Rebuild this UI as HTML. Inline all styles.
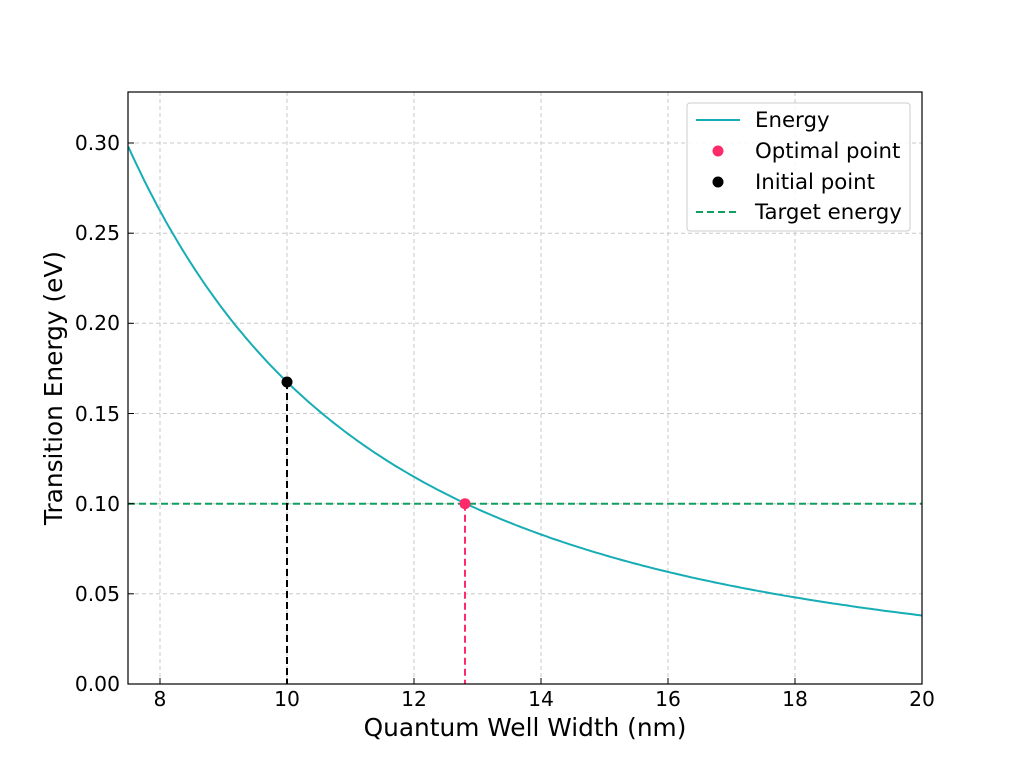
<!DOCTYPE html>
<html><head><meta charset="utf-8"><style>body{margin:0;background:#fff}svg{display:block;font-family:"DejaVu Sans","Liberation Sans",sans-serif}</style></head>
<body>
<svg id="s" width="1024" height="768" viewBox="0 0 1024 768">
<rect width="1024" height="768" fill="#fff"/>
<g stroke="#c8c8c8" stroke-width="1" stroke-dasharray="4,3">
<line x1="160" y1="92" x2="160" y2="684"/><line x1="287" y1="92" x2="287" y2="684"/><line x1="414" y1="92" x2="414" y2="684"/><line x1="541" y1="92" x2="541" y2="684"/><line x1="668" y1="92" x2="668" y2="684"/><line x1="795" y1="92" x2="795" y2="684"/>
<line x1="128" y1="593.8" x2="922" y2="593.8"/><line x1="128" y1="503.7" x2="922" y2="503.7"/><line x1="128" y1="413.5" x2="922" y2="413.5"/><line x1="128" y1="323.3" x2="922" y2="323.3"/><line x1="128" y1="233.2" x2="922" y2="233.2"/><line x1="128" y1="143" x2="922" y2="143"/>
</g>
<line x1="128" y1="503.7" x2="922" y2="503.7" stroke="#109e5e" stroke-width="2" stroke-dasharray="7,4"/>
<line x1="287" y1="382" x2="287" y2="684" stroke="#000" stroke-width="2" stroke-dasharray="7,4"/>
<line x1="465" y1="503.7" x2="465" y2="684" stroke="#ff2a6a" stroke-width="2" stroke-dasharray="7,4"/>
<path id="c" fill="none" stroke="#17adb5" stroke-width="2"/>
<circle cx="287" cy="382" r="5.5" fill="#000"/>
<circle cx="465" cy="503.7" r="5.5" fill="#ff2a6a"/>
<rect x="128" y="92" width="794" height="592" fill="none" stroke="#000" stroke-width="1.2"/>
<g stroke="#000" stroke-width="1">
<line x1="160" y1="684" x2="160" y2="678"/><line x1="287" y1="684" x2="287" y2="678"/><line x1="414" y1="684" x2="414" y2="678"/><line x1="541" y1="684" x2="541" y2="678"/><line x1="668" y1="684" x2="668" y2="678"/><line x1="795" y1="684" x2="795" y2="678"/><line x1="922" y1="684" x2="922" y2="678"/>
<line x1="128" y1="684" x2="134" y2="684"/><line x1="128" y1="593.8" x2="134" y2="593.8"/><line x1="128" y1="503.7" x2="134" y2="503.7"/><line x1="128" y1="413.5" x2="134" y2="413.5"/><line x1="128" y1="323.3" x2="134" y2="323.3"/><line x1="128" y1="233.2" x2="134" y2="233.2"/><line x1="128" y1="143" x2="134" y2="143"/>
</g>
<g font-size="20.3" text-anchor="middle" fill="#000">
<text x="160" y="706">8</text><text x="287" y="706">10</text><text x="414" y="706">12</text><text x="541" y="706">14</text><text x="668" y="706">16</text><text x="795" y="706">18</text><text x="922" y="706">20</text>
</g>
<g font-size="20.3" text-anchor="end" fill="#000">
<text x="120" y="691">0.00</text><text x="120" y="601">0.05</text><text x="120" y="511">0.10</text><text x="120" y="421">0.15</text><text x="120" y="330">0.20</text><text x="120" y="240">0.25</text><text x="120" y="150">0.30</text>
</g>
<text x="525" y="736" font-size="24.8" text-anchor="middle">Quantum Well Width (nm)</text>
<text transform="translate(62,388) rotate(-90)" font-size="24.8" text-anchor="middle">Transition Energy (eV)</text>
<rect x="687" y="103" width="223" height="128" rx="3" fill="#fff" fill-opacity="0.85" stroke="#ccc"/>
<line x1="696" y1="120" x2="740" y2="120" stroke="#17adb5" stroke-width="2"/>
<circle cx="718" cy="151" r="5.5" fill="#ff2a6a"/>
<circle cx="718" cy="182" r="5.5" fill="#000"/>
<line x1="696" y1="212" x2="740" y2="212" stroke="#109e5e" stroke-width="2" stroke-dasharray="7,4"/>
<g font-size="21.3" fill="#000">
<text x="755" y="127">Energy</text><text x="755" y="158">Optimal point</text><text x="755" y="189">Initial point</text><text x="755" y="219">Target energy</text>
</g>
</svg>
<script>
function E(L){var x=Math.log(L);return Math.exp(-1.2107-2.0025*(x-2.0149)-0.1404*(x-2.0149)*(x-2.3026));}
var d="";for(var k=0;k<=250;k++){var L=7.5+12.5*k/250;var x=160+(L-8)*63.5;var y=684-E(L)/0.05*90.17;d+=(k?"L":"M")+x.toFixed(1)+","+y.toFixed(1);}
document.getElementById("c").setAttribute("d",d);
</script>
</body></html>
